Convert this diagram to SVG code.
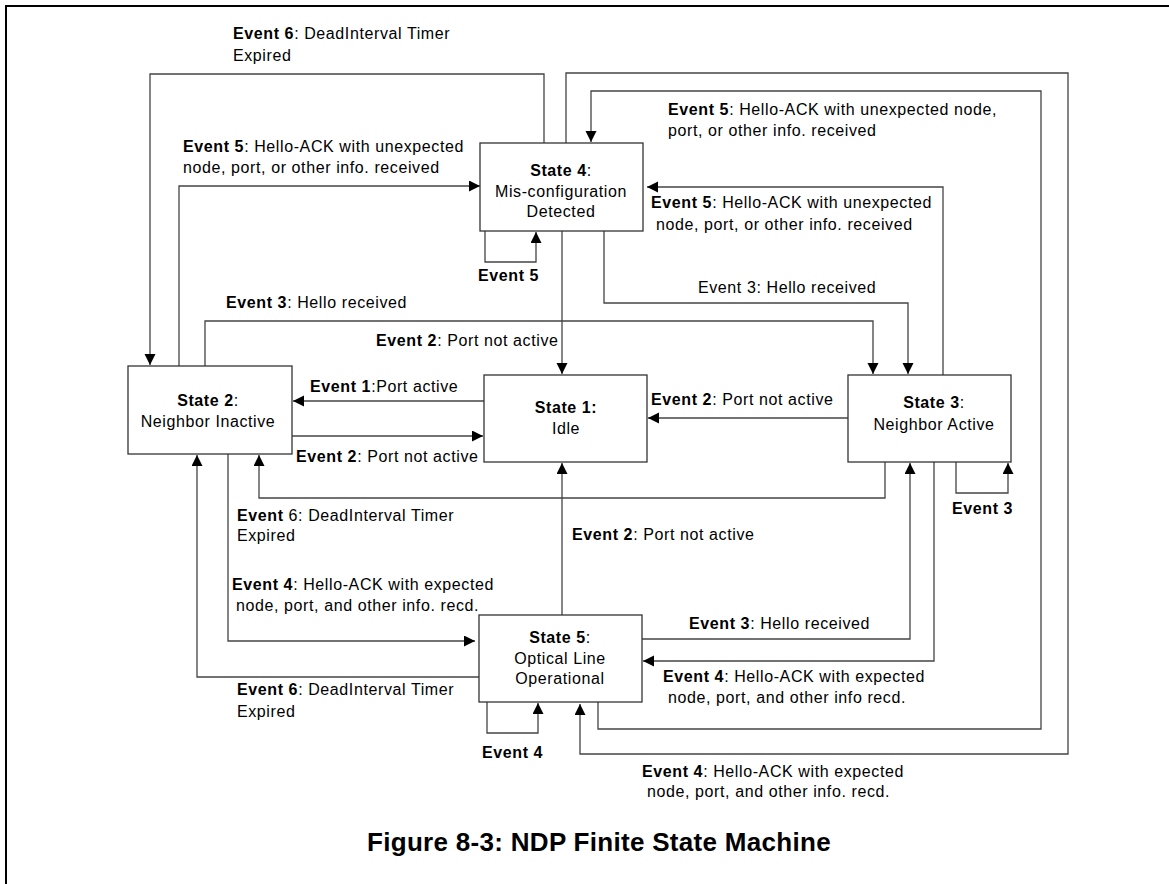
<svg xmlns="http://www.w3.org/2000/svg" width="1169" height="884" viewBox="0 0 1169 884">
  <style>
    .t { font-family: "Liberation Sans", Arial, sans-serif; font-size: 16px; letter-spacing: 0.6px; fill: #000; }
    .b { font-weight: bold; }
    .c { text-anchor: middle; }
    .title { font-family: "Liberation Sans", Arial, sans-serif; font-size: 26px; font-weight: bold; letter-spacing: 0.3px; fill: #000; }
    .box { fill: #fff; stroke: #333; stroke-width: 1.3; }
    .ln { fill: none; stroke: #444; stroke-width: 1.3; marker-end: url(#ah); }
  </style>
  <defs>
    <marker id="ah" markerUnits="userSpaceOnUse" markerWidth="12" markerHeight="12" refX="11" refY="5.5" orient="auto">
      <path d="M0,0 L11,5.5 L0,11 z" fill="#000"/>
    </marker>
  </defs>

  <rect width="1169" height="884" fill="#fff"/>
  <!-- page frame -->
  <path d="M6,895 V6 H1180" fill="none" stroke="#000" stroke-width="2"/>

  <!-- connectors -->
  <g id="connectors">
    <path class="ln" d="M544,143 V74 H150 V365"/>
    <path class="ln" d="M179,366 V186 H480"/>
    <path class="ln" d="M566,143 V73 H1068 V754 H580 V704"/>
    <path class="ln" d="M598,702 V729 H1041 V91 H591 V142"/>
    <path class="ln" d="M943,375 V187 H647"/>
    <path class="ln" d="M562,231 V374"/>
    <path class="ln" d="M604,231 V303 H908 V374"/>
    <path class="ln" d="M205,366 V321 H873 V374"/>
    <path class="ln" d="M484,401 H293"/>
    <path class="ln" d="M292,436 H483"/>
    <path class="ln" d="M848,418 H648"/>
    <path class="ln" d="M885,462 V498 H259 V455"/>
    <path class="ln" d="M562,615 V463"/>
    <path class="ln" d="M479,677 H197 V455"/>
    <path class="ln" d="M228,454 V641 H475"/>
    <path class="ln" d="M642,639 H910 V463"/>
    <path class="ln" d="M934,462 V661 H643"/>
    <!-- self loops -->
    <path class="ln" d="M485,231 V262 H536 V232"/>
    <path class="ln" d="M956,462 V493 H1008 V463"/>
    <path class="ln" d="M487,702 V733 H538 V703"/>
  </g>

  <!-- connector labels -->
  <g id="labels">
    <text class="t" x="233" y="39"><tspan class="b">Event 6</tspan>: DeadInterval Timer</text>
    <text class="t" x="233" y="61">Expired</text>

    <text class="t" x="183" y="152"><tspan class="b">Event 5</tspan>: Hello-ACK with unexpected</text>
    <text class="t" x="183" y="173">node, port, or other info. received</text>

    <text class="t" x="668" y="115"><tspan class="b">Event 5</tspan>: Hello-ACK with unexpected node,</text>
    <text class="t" x="668" y="136">port, or other info. received</text>

    <text class="t" x="651" y="208"><tspan class="b">Event 5</tspan>: Hello-ACK with unexpected</text>
    <text class="t" x="656" y="230">node, port, or other info. received</text>

    <text class="t b" x="478" y="281">Event 5</text>

    <text class="t" x="698" y="293">Event 3: Hello received</text>
    <text class="t" x="226" y="308"><tspan class="b">Event 3</tspan>: Hello received</text>
    <text class="t" x="376" y="346"><tspan class="b">Event 2</tspan>: Port not active</text>
    <text class="t" x="310" y="392"><tspan class="b">Event 1</tspan>:Port active</text>
    <text class="t" x="651" y="405"><tspan class="b">Event 2</tspan>: Port not active</text>
    <text class="t" x="296" y="462"><tspan class="b">Event 2</tspan>: Port not active</text>

    <text class="t b" x="952" y="514">Event 3</text>

    <text class="t" x="237" y="521"><tspan class="b">Event</tspan> 6: DeadInterval Timer</text>
    <text class="t" x="237" y="541">Expired</text>

    <text class="t" x="572" y="540"><tspan class="b">Event 2</tspan>: Port not active</text>

    <text class="t" x="232" y="590"><tspan class="b">Event 4</tspan>: Hello-ACK with expected</text>
    <text class="t" x="236" y="611">node, port, and other info. recd.</text>

    <text class="t" x="689" y="629"><tspan class="b">Event 3</tspan>: Hello received</text>

    <text class="t" x="663" y="682"><tspan class="b">Event 4</tspan>: Hello-ACK with expected</text>
    <text class="t" x="668" y="703">node, port, and other info recd.</text>

    <text class="t" x="237" y="695"><tspan class="b">Event 6</tspan>: DeadInterval Timer</text>
    <text class="t" x="237" y="717">Expired</text>

    <text class="t b" x="482" y="758">Event 4</text>

    <text class="t" x="642" y="777"><tspan class="b">Event 4</tspan>: Hello-ACK with expected</text>
    <text class="t" x="647" y="797">node, port, and other info. recd.</text>
  </g>

  <!-- states -->
  <g id="state4">
    <rect class="box" x="480" y="143" width="163" height="88"/>
    <text class="t c" x="561" y="176"><tspan class="b">State 4</tspan>:</text>
    <text class="t c" x="561" y="197">Mis-configuration</text>
    <text class="t c" x="561" y="217">Detected</text>
  </g>
  <g id="state2">
    <rect class="box" x="128" y="366" width="164" height="88"/>
    <text class="t c" x="208" y="406"><tspan class="b">State 2</tspan>:</text>
    <text class="t c" x="208" y="427">Neighbor Inactive</text>
  </g>
  <g id="state1">
    <rect class="box" x="484" y="375" width="163" height="87"/>
    <text class="t c b" x="566" y="413">State 1:</text>
    <text class="t c" x="566" y="434">Idle</text>
  </g>
  <g id="state3">
    <rect class="box" x="848" y="375" width="163" height="87"/>
    <text class="t c" x="934" y="408"><tspan class="b">State 3</tspan>:</text>
    <text class="t c" x="934" y="430">Neighbor Active</text>
  </g>
  <g id="state5">
    <rect class="box" x="479" y="615" width="163" height="87"/>
    <text class="t c" x="560" y="643"><tspan class="b">State 5</tspan>:</text>
    <text class="t c" x="560" y="664">Optical Line</text>
    <text class="t c" x="560" y="684">Operational</text>
  </g>

  <text class="title" x="367" y="851">Figure 8-3: NDP Finite State Machine</text>
</svg>
